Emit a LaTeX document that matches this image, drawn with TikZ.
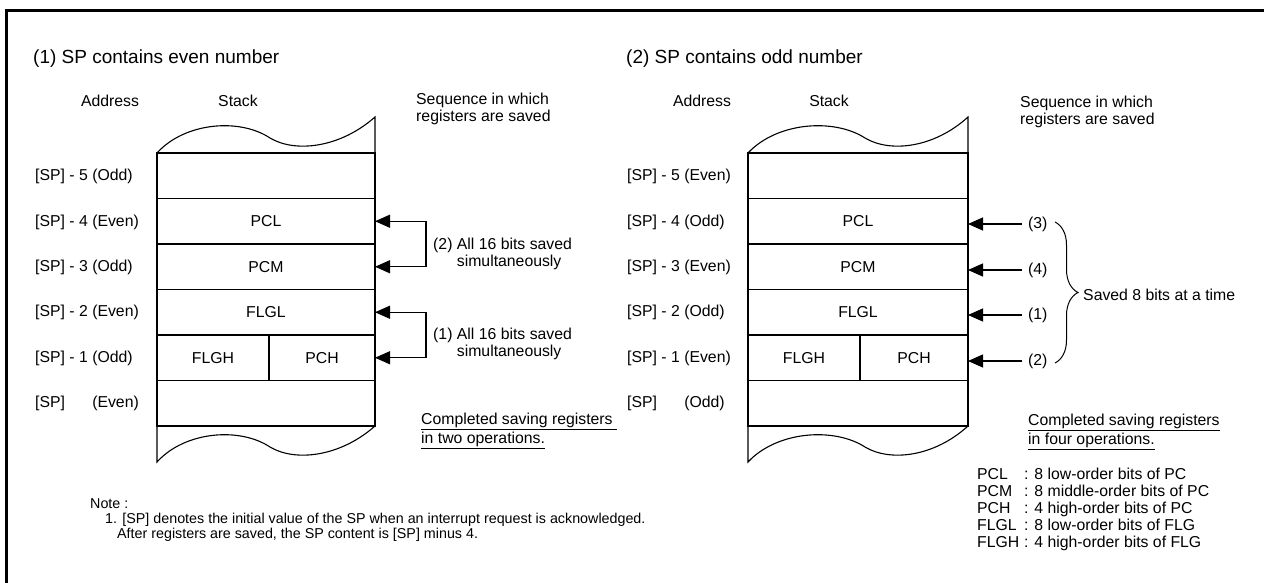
\documentclass[tikz,border=0pt]{standalone}
\usepackage{fontspec}
\setmainfont{Liberation Sans}
\usetikzlibrary{arrows.meta,decorations.pathreplacing}
\begin{document}
\begin{tikzpicture}[x=1pt,y=-1pt,font=\fontsize{15.8}{17}\selectfont]
\tikzset{
 cell/.style={draw, line width=1.1pt, minimum height=45.5pt, inner sep=0pt, outer sep=0pt},
 lbl/.style={anchor=west, inner sep=0pt},
 num/.style={anchor=west, inner sep=0pt, outer sep=6pt},
 edge/.style={line width=1.1pt},
 tip/.style={-{Triangle[length=15pt,width=13pt]}, line width=1.1pt},
 tips/.style={{Triangle[length=15pt,width=13pt]}-{Triangle[length=15pt,width=13pt]}, line width=1.1pt},
 ttl/.style={anchor=west, inner sep=0pt, font=\fontsize{19}{22}\selectfont},
}
\useasboundingbox (0,0) rectangle (1264,583);
% frame
\draw[line width=3.5pt] (6.5,583) -- (6.5,10.5) -- (1264,10.5);

% titles
\node[ttl] (t1) at (33,59) {(1) SP contains even number};
\node[ttl] (t2) at (626,59) {(2) SP contains odd number};

% headers left
\node (ha1) at (110,101) {Address};
\node (hs1) at (238,101) {Stack};
\node[lbl, align=left] (hq1) at (416,109) {Sequence in which\\registers are saved};
% headers right
\node (ha2) at (702,101) {Address};
\node (hs2) at (829,101) {Stack};
\node[lbl, align=left] (hq2) at (1020,112) {Sequence in which\\registers are saved};

% left stack
\node[cell, minimum width=218pt] (a5) at (266,175.75) {};
\node[cell, minimum width=218pt] (a4) at (266,221.25) {PCL};
\node[cell, minimum width=218pt] (a3) at (266,266.75) {PCM};
\node[cell, minimum width=218pt] (a2) at (266,312.25) {FLGL};
\node[cell, minimum width=112pt] (a1h) at (213,357.75) {FLGH};
\node[cell, minimum width=106pt] (a1l) at (322,357.75) {PCH};
\node[cell, minimum width=218pt] (a0) at (266,403.25) {};
\draw[edge] (a5.north west) .. controls (185,122) and (240,118) .. (270,138)
  .. controls (295,153) and (340,148) .. (375,117) -- (a5.north east);
\draw[edge] (a0.south west) -- (157,462) .. controls (185,431) and (240,427) .. (270,447)
  .. controls (295,462) and (340,457) .. (a0.south east);

% right stack
\node[cell, minimum width=220pt] (b5) at (858,175.75) {};
\node[cell, minimum width=220pt] (b4) at (858,221.25) {PCL};
\node[cell, minimum width=220pt] (b3) at (858,266.75) {PCM};
\node[cell, minimum width=220pt] (b2) at (858,312.25) {FLGL};
\node[cell, minimum width=112pt] (b1h) at (804,357.75) {FLGH};
\node[cell, minimum width=108pt] (b1l) at (914,357.75) {PCH};
\node[cell, minimum width=220pt] (b0) at (858,403.25) {};
\draw[edge] (b5.north west) .. controls (777,122) and (834,118) .. (865,138)
  .. controls (890,153) and (934,148) .. (968,117) -- (b5.north east);
\draw[edge] (b0.south west) -- (748,462) .. controls (777,431) and (834,427) .. (865,447)
  .. controls (890,462) and (934,457) .. (b0.south east);

% address labels left
\node[lbl] (la5) at (35,176) {[SP] - 5 (Odd)};
\node[lbl] (la4) at (35,222) {[SP] - 4 (Even)};
\node[lbl] (la3) at (35,267) {[SP] - 3 (Odd)};
\node[lbl] (la2) at (35,312) {[SP] - 2 (Even)};
\node[lbl] (la1) at (35,358) {[SP] - 1 (Odd)};
\node[lbl] (la0) at (35,403) {[SP]\phantom{ - 2 }(Even)};
% address labels right
\node[lbl] (lb5) at (627,176) {[SP] - 5 (Even)};
\node[lbl] (lb4) at (627,222) {[SP] - 4 (Odd)};
\node[lbl] (lb3) at (627,267) {[SP] - 3 (Even)};
\node[lbl] (lb2) at (627,312) {[SP] - 2 (Odd)};
\node[lbl] (lb1) at (627,358) {[SP] - 1 (Even)};
\node[lbl] (lb0) at (627,403) {[SP]\phantom{ - 2 }(Odd)};

% left arrows
\draw[tips] (a4.east) -- ++(51,0) |- (a3.east);
\draw[tips] (a2.east) -- ++(51,0) |- (a1l.east);
\node[lbl, align=left] (s2) at (433,254) {(2) All 16 bits saved\\\phantom{(2) }simultaneously};
\node[lbl, align=left] (s1) at (433,344) {(1) All 16 bits saved\\\phantom{(1) }simultaneously};

% right arrows
\node[num] (q3) at (1022,224) {(3)};
\node[num] (q4) at (1022,270) {(4)};
\node[num] (q1) at (1022,315) {(1)};
\node[num] (q2) at (1022,361) {(2)};
\draw[tip] (q3.west) -- (b4.east |- q3.west);
\draw[tip] (q4.west) -- (b3.east |- q4.west);
\draw[tip] (q1.west) -- (b2.east |- q1.west);
\draw[tip] (q2.west) -- (b1l.east |- q2.west);
\draw[decorate, decoration={brace, amplitude=23pt}, line width=1pt] (1055,222) -- (1055,363);
\node[lbl] (sv) at (1083,295) {Saved 8 bits at a time};

% completed
\node[lbl, align=left, font=\fontsize{15.8}{19}\selectfont] (c1) at (421,431)
  {\underline{Completed saving registers\ }\\\underline{in two operations.}};
\node[lbl, align=left, font=\fontsize{15.8}{19}\selectfont] (c2) at (1028,432)
  {\underline{Completed saving registers}\\\underline{in four operations.}};

% legend
\node[lbl, align=left] (lg) at (977,509)
  {\makebox[47pt][l]{PCL}: 8 low-order bits of PC\\
   \makebox[47pt][l]{PCM}: 8 middle-order bits of PC\\
   \makebox[47pt][l]{PCH}: 4 high-order bits of PC\\
   \makebox[47pt][l]{FLGL}: 8 low-order bits of FLG\\
   \makebox[47pt][l]{FLGH}: 4 high-order bits of FLG};

% note
\node[lbl, align=left, font=\fontsize{14.3}{15}\selectfont] (nt) at (90,520)
  {Note :\\
   \hspace*{15pt}1. [SP] denotes the initial value of the SP when an interrupt request is acknowledged.\\
   \hspace*{27pt}After registers are saved, the SP content is [SP] minus 4.};
\end{tikzpicture}
\end{document}
